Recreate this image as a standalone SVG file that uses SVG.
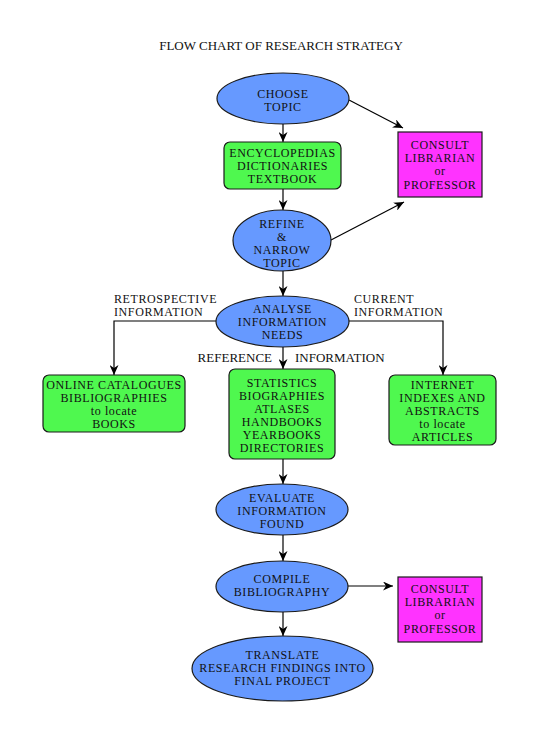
<svg xmlns="http://www.w3.org/2000/svg" width="550" height="744" viewBox="0 0 550 744">
<defs>
<style>
text{font-family:"Liberation Serif","Times New Roman",serif;font-size:12px;letter-spacing:0.6px;fill:#111;}
.t{font-size:13px;letter-spacing:0;}
.c{text-anchor:middle;}
.ell{fill:#6699ff;stroke:#1a1a1a;stroke-width:1.2;}
.grn{fill:#4ff84f;stroke:#1a1a1a;stroke-width:1.2;}
.mag{fill:#ff33ff;stroke:#1a1a1a;stroke-width:1.2;}
.edge{fill:none;stroke:#000;stroke-width:1.2;marker-end:url(#ah);}
</style>
<marker id="ah" markerUnits="userSpaceOnUse" markerWidth="11" markerHeight="9" refX="10" refY="4.5" orient="auto" viewBox="0 0 11 9">
<path d="M0,0 L10,4.5 L0,9 L3,4.5 z" fill="#000"/>
</marker>
</defs>
<rect width="550" height="744" fill="#fff"/>
<text class="c t" x="281" y="50">FLOW CHART OF RESEARCH STRATEGY</text>

<g id="connectors">
<path class="edge" d="M283,124 L283,142"/>
<path class="edge" d="M283,189 L283,210"/>
<path class="edge" d="M349,100 L403,128"/>
<path class="edge" d="M331,240 L404,202"/>
<path class="edge" d="M283,271 L283,296"/>
<path class="edge" d="M216,321 L114,321 L114,375"/>
<path class="edge" d="M349,321 L443,321 L443,375"/>
<path class="edge" d="M283,347 L283,369"/>
<path class="edge" d="M283,459 L283,484"/>
<path class="edge" d="M283,535 L283,561"/>
<path class="edge" d="M348,586 L393,586"/>
<path class="edge" d="M283,612 L283,636"/>
</g>

<g id="labels">
<text x="114" y="303">RETROSPECTIVE<tspan x="114" dy="13">INFORMATION</tspan></text>
<text x="354" y="303">CURRENT<tspan x="354" dy="13">INFORMATION</tspan></text>
<text class="t" x="272" y="362" text-anchor="end">REFERENCE</text>
<text class="t" x="295" y="362">INFORMATION</text>
</g>

<g id="choose">
<ellipse class="ell" cx="283" cy="98.5" rx="66" ry="25.5"/>
<text class="c" x="283" y="98">CHOOSE<tspan x="283" dy="13">TOPIC</tspan></text>
</g>

<g id="encyclopedias">
<rect class="grn" x="224" y="142" width="117" height="47" rx="6"/>
<text class="c" x="282.5" y="157">ENCYCLOPEDIAS<tspan x="282.5" dy="13">DICTIONARIES</tspan><tspan x="282.5" dy="13">TEXTBOOK</tspan></text>
</g>

<g id="consult1">
<rect class="mag" x="398" y="132" width="84" height="65"/>
<text class="c" x="440" y="149">CONSULT<tspan x="440" dy="13">LIBRARIAN</tspan><tspan x="440" dy="13">or</tspan><tspan x="440" dy="14">PROFESSOR</tspan></text>
</g>

<g id="refine">
<ellipse class="ell" cx="282" cy="240.5" rx="49" ry="30.5"/>
<text class="c" x="282" y="228">REFINE<tspan x="282" dy="13">&amp;</tspan><tspan x="282" dy="13">NARROW</tspan><tspan x="282" dy="13">TOPIC</tspan></text>
</g>

<g id="analyse">
<ellipse class="ell" cx="282.5" cy="321.5" rx="66.5" ry="25.5"/>
<text class="c" x="282.5" y="313">ANALYSE<tspan x="282.5" dy="13">INFORMATION</tspan><tspan x="282.5" dy="13">NEEDS</tspan></text>
</g>

<g id="online">
<rect class="grn" x="43" y="375" width="142" height="57" rx="6"/>
<text class="c" x="114" y="389">ONLINE CATALOGUES<tspan x="114" dy="13">BIBLIOGRAPHIES</tspan><tspan x="114" dy="13">to locate</tspan><tspan x="114" dy="13">BOOKS</tspan></text>
</g>

<g id="reference">
<rect class="grn" x="229" y="369" width="106" height="90" rx="6"/>
<text class="c" x="282" y="387">STATISTICS<tspan x="282" dy="13">BIOGRAPHIES</tspan><tspan x="282" dy="13">ATLASES</tspan><tspan x="282" dy="13">HANDBOOKS</tspan><tspan x="282" dy="13">YEARBOOKS</tspan><tspan x="282" dy="13">DIRECTORIES</tspan></text>
</g>

<g id="internet">
<rect class="grn" x="389" y="375" width="107" height="70" rx="6"/>
<text class="c" x="442.5" y="389">INTERNET<tspan x="442.5" dy="13">INDEXES AND</tspan><tspan x="442.5" dy="13">ABSTRACTS</tspan><tspan x="442.5" dy="13">to locate</tspan><tspan x="442.5" dy="13">ARTICLES</tspan></text>
</g>

<g id="evaluate">
<ellipse class="ell" cx="282" cy="509.5" rx="66" ry="25.5"/>
<text class="c" x="282" y="502">EVALUATE<tspan x="282" dy="13">INFORMATION</tspan><tspan x="282" dy="13">FOUND</tspan></text>
</g>

<g id="compile">
<ellipse class="ell" cx="282" cy="586.5" rx="66" ry="25.5"/>
<text class="c" x="282" y="583">COMPILE<tspan x="282" dy="13">BIBLIOGRAPHY</tspan></text>
</g>

<g id="consult2">
<rect class="mag" x="398" y="577" width="84" height="65"/>
<text class="c" x="440" y="593">CONSULT<tspan x="440" dy="13">LIBRARIAN</tspan><tspan x="440" dy="13">or</tspan><tspan x="440" dy="14">PROFESSOR</tspan></text>
</g>

<g id="translate">
<ellipse class="ell" cx="282.5" cy="668.5" rx="90.5" ry="32.5"/>
<text class="c" x="282.5" y="659">TRANSLATE<tspan x="282.5" dy="13">RESEARCH FINDINGS INTO</tspan><tspan x="282.5" dy="13">FINAL PROJECT</tspan></text>
</g>
</svg>
